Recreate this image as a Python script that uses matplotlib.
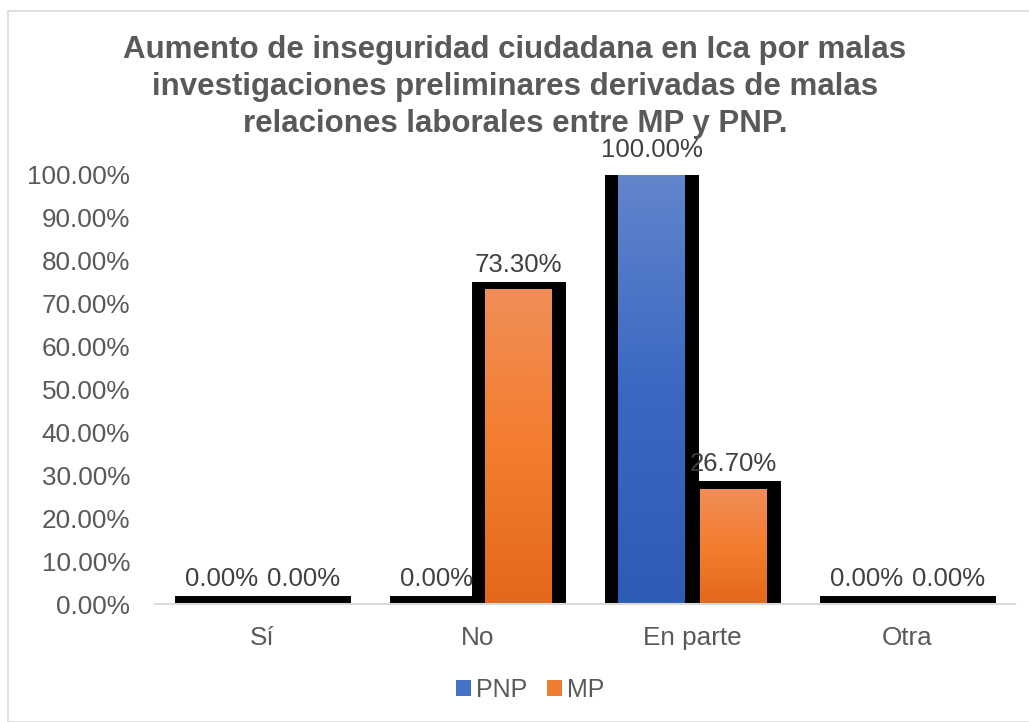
import matplotlib
matplotlib.use("Agg")
import matplotlib.pyplot as plt
import numpy as np
from matplotlib.colors import LinearSegmentedColormap
from matplotlib.patches import Patch, Rectangle

categories = ["Sí", "No", "En parte", "Otra"]
series_names = ["PNP", "MP"]
pnp_values = [0.0, 0.0, 1.0, 0.0]
mp_values = [0.0, 0.733, 0.267, 0.0]
yticks = [0.0, 0.1, 0.2, 0.3, 0.4, 0.5, 0.6, 0.7, 0.8, 0.9, 1.0]
title = ("Aumento de inseguridad ciudadana en Ica por malas\n"
         "investigaciones preliminares derivadas de malas\n"
         "relaciones laborales entre MP y PNP.")

plt.rcParams['font.family'] = ['Liberation Sans', 'DejaVu Sans']

W, H = 1029, 722
fig = plt.figure(figsize=(W / 100, H / 100), dpi=100)
# chart frame
fig.patches.append(Rectangle((8 / W, 0), 1.2, 1 - 11 / H, transform=fig.transFigure,
                             fill=False, edgecolor="#D9D9D9", linewidth=1.2))

ax = fig.add_axes([155 / W, 1 - 604 / H, 860 / W, 429 / H])
ymax = yticks[-1]

cmaps = {
    "PNP": LinearSegmentedColormap.from_list("b", ["#2D5BB5", "#3A68C2", "#6285CC"]),
    "MP": LinearSegmentedColormap.from_list("o", ["#E2681A", "#F47D2E", "#F08E58"]),
}
legend_colors = {"PNP": "#4472C4", "MP": "#ED7D31"}

x = np.arange(len(categories))
width = 0.3535        # bar (outline centre) width
inner = 0.3116        # visible gradient fill width
offset = 0.1907
edge_lw = 12.2
grad = np.linspace(0, 1, 256).reshape(-1, 1)

for name, vals, sign in [("PNP", pnp_values, -1), ("MP", mp_values, 1)]:
    pos = x + sign * offset
    bars = ax.bar(pos, vals, width, facecolor="black", edgecolor="black",
                  linewidth=edge_lw, zorder=2)
    for rect, xc, v in zip(bars, pos, vals):
        rect.set_joinstyle("miter")
        if v > 0:
            ax.imshow(grad, cmap=cmaps[name], origin="lower", aspect="auto",
                      extent=(xc - inner / 2, xc + inner / 2, 0, v), zorder=3)
        else:
            # zero-height bar: its outline collapses to a thick flat line
            rect.set_edgecolor("none")
            x0 = rect.get_x()
            ax.plot([x0, x0 + rect.get_width()], [v, v], color="black",
                    lw=edge_lw, solid_capstyle="projecting", zorder=2)
        ax.annotate(f"{v * 100:.2f}%", (xc, v),
                    xytext=(0, 18), textcoords="offset points", ha="center",
                    va="center", fontsize=18.5, color="#404040",
                    annotation_clip=False, zorder=4)

ax.set_xlim(-0.5, 3.5)
ax.set_ylim(0, ymax)
ax.set_yticks(yticks)
ax.set_yticklabels([f"{t * 100:.2f}%" for t in yticks])
ax.set_xticks(x)
ax.set_xticklabels(categories)
ax.tick_params(axis="both", length=0, labelsize=18.8, labelcolor="#595959")
ax.tick_params(axis="y", pad=18)
ax.tick_params(axis="x", pad=16)
for s in ["top", "right", "left"]:
    ax.spines[s].set_visible(False)
ax.spines["bottom"].set_color("#D9D9D9")
ax.spines["bottom"].set_linewidth(1.5)
ax.spines["bottom"].set_zorder(5)

fig.text(515 / W, 1 - 35 / H, title, ha="center", va="top", fontsize=22.5,
         fontweight="bold", color="#595959", linespacing=1.3)

handles = [Patch(facecolor=legend_colors[n], edgecolor="none") for n in series_names]
fig.legend(handles, series_names, loc="center", bbox_to_anchor=(530 / W, 1 - 690 / H),
           ncol=2, frameon=False, fontsize=18, handlelength=0.6, handleheight=0.6,
           handletextpad=0.2, columnspacing=0.8, labelcolor="#595959")

fig.savefig("out.png", dpi=100)
